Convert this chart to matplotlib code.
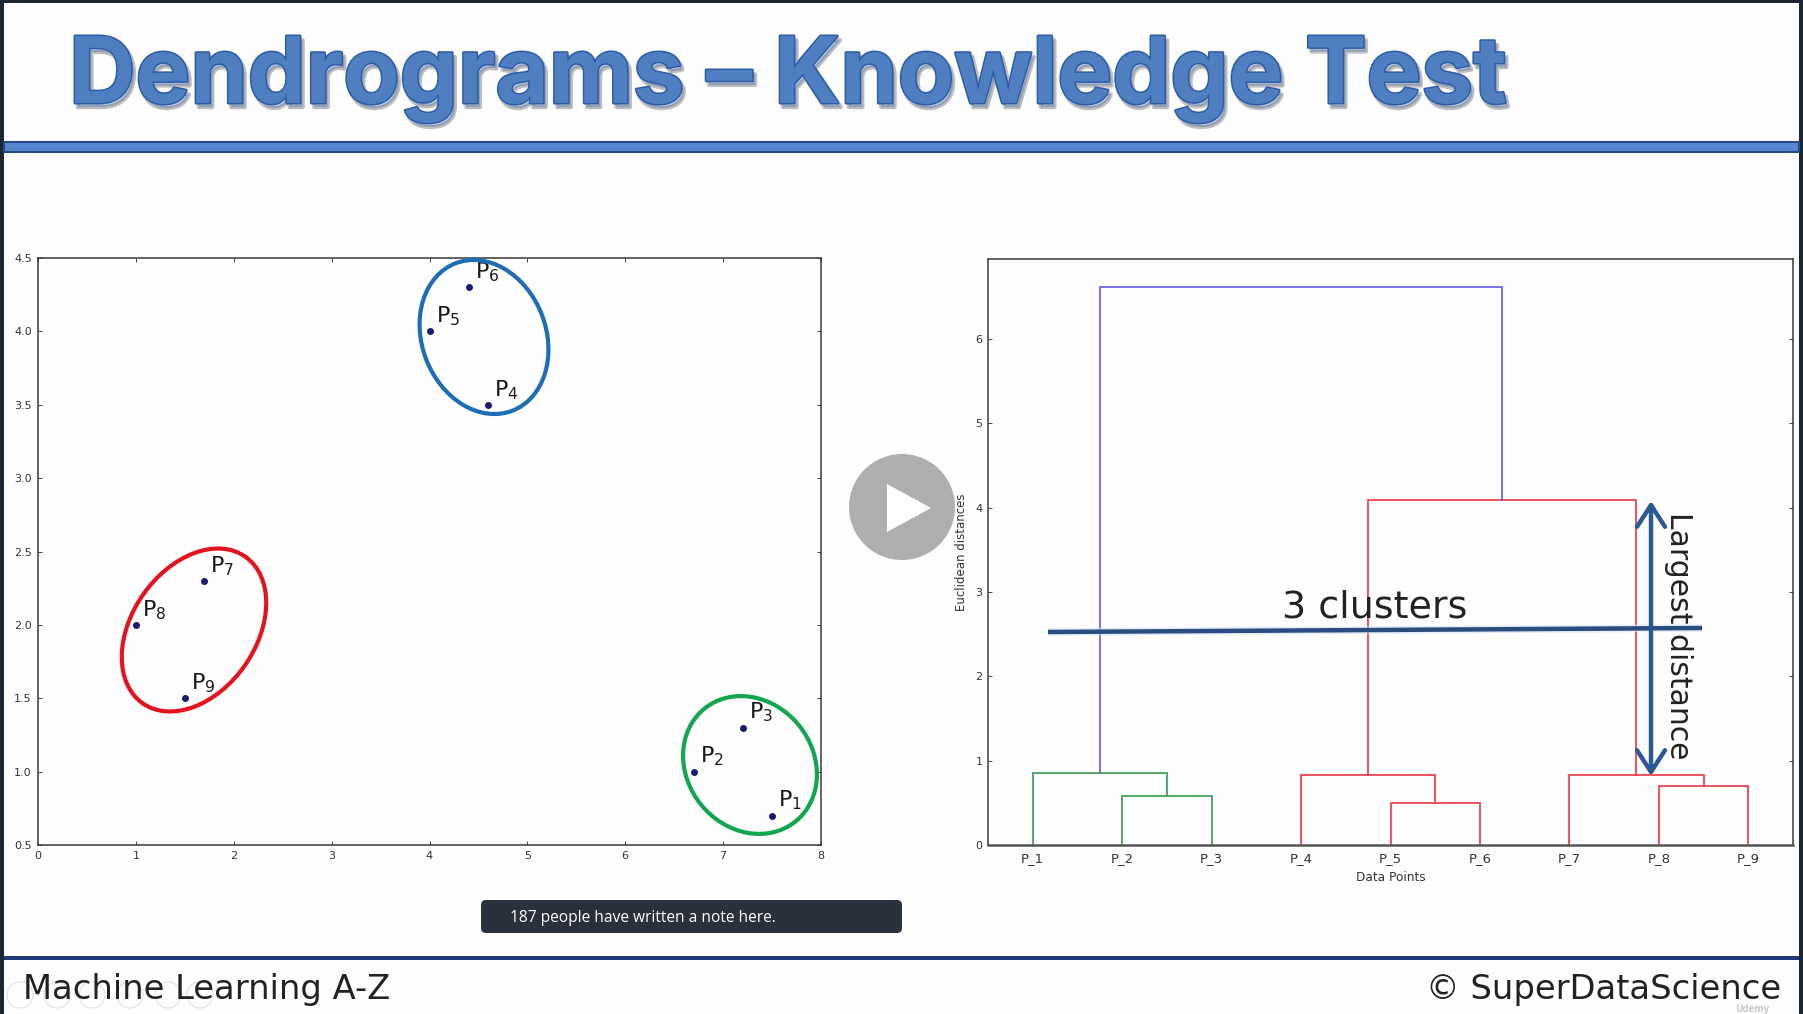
import matplotlib
matplotlib.use("Agg")
import matplotlib.pyplot as plt
import matplotlib.patheffects as pe
from matplotlib.patches import Ellipse, Circle, Rectangle, FancyBboxPatch, Polygon

W, H = 1803, 1014

# ---------- data ----------
point_names = ["P1", "P2", "P3", "P4", "P5", "P6", "P7", "P8", "P9"]
point_x = [7.5, 6.7, 7.2, 4.6, 4.0, 4.4, 1.7, 1.0, 1.5]
point_y = [0.7, 1.0, 1.3, 3.5, 4.0, 4.3, 2.3, 2.0, 1.5]

leaf_labels = ["P_1", "P_2", "P_3", "P_4", "P_5", "P_6", "P_7", "P_8", "P_9"]
leaf_pos = [5, 15, 25, 35, 45, 55, 65, 75, 85]

# each merge: left x, left bottom, height, right bottom, right x
green_merges = [(15, 0, 0.585, 0, 25), (5, 0, 0.855, 0.585, 20)]
red_merges = [(45, 0, 0.50, 0, 55), (35, 0, 0.83, 0.50, 50),
              (75, 0, 0.70, 0, 85), (65, 0, 0.83, 0.70, 80),
              (42.5, 0.83, 4.09, 0.83, 72.5)]
blue_merges = [(12.5, 0.855, 6.62, 4.09, 57.5)]

GREEN, RED, PURPLE = "#45a058", "#ea4450", "#6f66e4"
NAVY = "#1a1a6e"

fig = plt.figure(figsize=(W / 100, H / 100), dpi=100, facecolor="#fefefe")


def box(x0, y0, x1, y1):
    return [x0 / W, 1 - y1 / H, (x1 - x0) / W, (y1 - y0) / H]


# ---------- scatter ----------
ax1 = fig.add_axes(box(38, 258, 821, 845), facecolor="#fefefe")
ax1.scatter(point_x, point_y, s=16, color=NAVY, zorder=3)
for name, x, y in zip(point_names, point_x, point_y):
    ax1.annotate(r"$\mathrm{P}_{%s}$" % name[1], (x, y), xytext=(6, 15),
                 textcoords="offset pixels", ha="left", va="center",
                 fontsize=16, color="#1a1a1a", zorder=4)
ax1.set_xlim(0, 8)
ax1.set_ylim(0.5, 4.5)
ax1.set_xticks(range(0, 9))
ax1.set_yticks([0.5, 1, 1.5, 2, 2.5, 3, 3.5, 4, 4.5])
ax1.set_yticklabels(["0.5", "1.0", "1.5", "2.0", "2.5", "3.0", "3.5", "4.0", "4.5"])
ax1.tick_params(direction="in", top=True, right=True, length=3, width=0.7,
                labelsize=8, color="#444444", labelcolor="#333333", pad=4.5)
for s in ax1.spines.values():
    s.set_color("#3a3a3a")
    s.set_linewidth(1.1)

# ---------- dendrogram ----------
ax2 = fig.add_axes(box(988, 259, 1793, 845), facecolor="#fefefe")
for merges, col in ((green_merges, GREEN), (red_merges, RED), (blue_merges, PURPLE)):
    for xl, yl, h, yr, xr in merges:
        ax2.plot([xl, xl, xr, xr], [yl, h, h, yr], color=col, lw=1.3,
                 solid_joinstyle="miter", zorder=2)
ax2.set_xlim(0, 90)
ax2.set_ylim(0, 6.95)
ax2.set_xticks(leaf_pos)
ax2.set_xticklabels(leaf_labels)
ax2.set_yticks(range(0, 7))
ax2.tick_params(axis="x", length=0, labelsize=9.5, labelcolor="#333333", pad=5)
ax2.tick_params(axis="y", direction="in", right=True, length=3, width=0.7,
                labelsize=8, color="#444444", labelcolor="#333333", pad=4)
ax2.set_xlabel("Data Points", fontsize=8.7, color="#333333", labelpad=4.5)
ax2.set_ylabel("Euclidean distances", fontsize=8.5, color="#333333", labelpad=5)
for s in ax2.spines.values():
    s.set_color("#3a3a3a")
    s.set_linewidth(1.1)
ax2.spines["bottom"].set_linewidth(1.8)
ax2.spines["bottom"].set_color("#555555")

# ---------- slide overlay, in screen pixels ----------
ov = fig.add_axes([0, 0, 1, 1], facecolor="none", zorder=5)
ov.set_xlim(0, W)
ov.set_ylim(H, 0)
ov.axis("off")

FRAME = "#1c2633"
ov.add_patch(Rectangle((0, 0), W, 3, color=FRAME, lw=0))
ov.add_patch(Rectangle((0, 0), 4, H, color=FRAME, lw=0))
ov.add_patch(Rectangle((W - 4, 0), 4, H, color=FRAME, lw=0))

ov.add_patch(Rectangle((4, 142), W - 8, 10, facecolor="#5586d2", edgecolor="#274a80", lw=1.5))
ov.add_patch(Rectangle((4, 956), W - 8, 4, facecolor="#1f3a78", lw=0))

title = ov.text(69, 103, "Dendrograms – Knowledge Test", fontsize=66.3, fontweight="bold",
                family="Inter", color="#4f7fc0", ha="left", va="baseline")
title.set_path_effects([
    pe.withStroke(linewidth=3, foreground="#5a5f6a", offset=(2, -3), alpha=0.4),
    pe.Stroke(linewidth=2.2, foreground="#2f5ca6"),
    pe.Normal(),
])

ov.text(23, 999, "Machine Learning A-Z", fontsize=24.3, color="#222222",
        family="DejaVu Sans", ha="left", va="baseline")
ov.text(1781, 999, "© SuperDataScience", fontsize=24.3, color="#222222",
        family="DejaVu Sans", ha="right", va="baseline")

# player-control ghosts and logo
for cx in (20, 57, 92, 130, 168, 200):
    ov.add_patch(Circle((cx, 995), 13, facecolor="none", edgecolor="#e6e6e6", lw=1, zorder=0.5))
ov.text(1752, 1009.5, "Udemy", fontsize=7, color="#c9c9c9", ha="center", va="center",
        family="Open Sans", fontweight="bold")

# note tooltip
ov.add_patch(FancyBboxPatch((484, 903), 415, 27, boxstyle="round,pad=3,rounding_size=5",
                            facecolor="#2a303c", edgecolor="none"))
ov.text(510, 918, "187 people have written a note here.", fontsize=11.2, color="white",
        family="Open Sans", ha="left", va="center")

# play button
ov.add_patch(Circle((902, 507), 53, facecolor="#afafaf", edgecolor="none"))
ov.add_patch(Polygon([(887, 484), (887, 532), (931, 508)], closed=True,
                     facecolor="white", edgecolor="none"))

# ellipses round the clusters
ELL = [((484, 337), 158, 124, 69, "#1f6db5"),
       ((194, 630), 179, 124, -55, "#e3131f"),
       ((750, 765), 145, 126, 51, "#12a650")]
for c, w, h, a, col in ELL:
    ov.add_patch(Ellipse(c, w, h, angle=a, facecolor="none", edgecolor=col, lw=3.0))

# annotations on the dendrogram
ov.plot([1048, 1702], [632, 628], color="#cfe0f2", lw=5.5, solid_capstyle="butt", alpha=0.6)
ov.plot([1048, 1702], [632, 628], color="#2a4c7e", lw=3.2, solid_capstyle="butt")
ov.text(1375, 608, "3 clusters", fontsize=27.4, color="#222222", family="DejaVu Sans",
        ha="center", va="center")
ov.annotate("", xy=(1651, 501), xytext=(1651, 776),
            arrowprops=dict(arrowstyle="<->,head_length=0.65,head_width=0.42",
                            color="#2b5a92", lw=3.2, mutation_scale=24,
                            shrinkA=0, shrinkB=0))
ov.text(1678, 636, "Largest distance", fontsize=21.5, color="#222222", family="DejaVu Sans",
        rotation=-90, ha="center", va="center")

fig.savefig("out.png", dpi=100, facecolor=fig.get_facecolor())
